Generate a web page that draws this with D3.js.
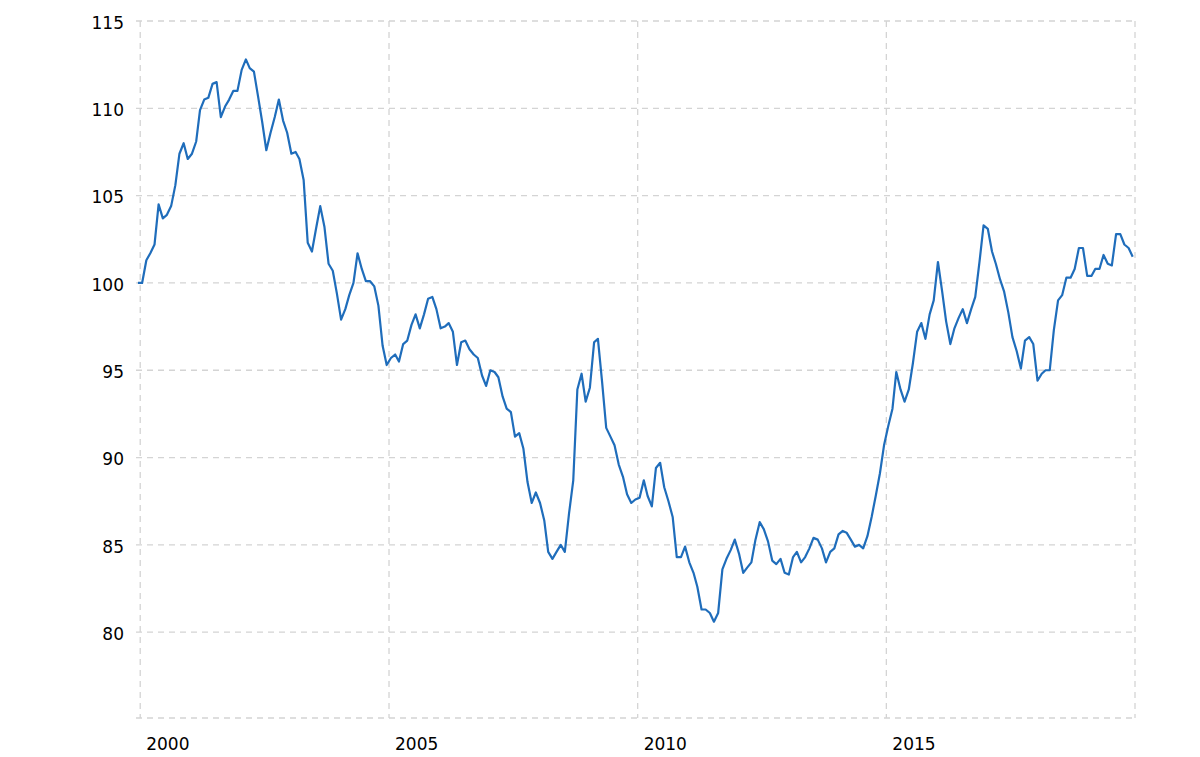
<!DOCTYPE html>
<html>
<head>
<meta charset="utf-8">
<script src="https://cdn.jsdelivr.net/npm/d3@7"></script>
<style>
  html, body { margin: 0; padding: 0; background: #ffffff; }
  svg { display: block; }
  .tick-label { font-family: "DejaVu Sans", Verdana, sans-serif; font-size: 17px; fill: #000; }
</style>
</head>
<body>
<svg id="chart" width="1200" height="757"></svg>
<script>
// ---- data (monthly, Dec 1999 .. Dec 2019) ----
const startMonth = "1999-12";
const values = [
  100.0, 100.0, 101.3, 101.7, 102.2, 104.5, 103.7, 103.9, 104.4, 105.6,
  107.4, 108.0, 107.1, 107.4, 108.1, 109.9, 110.5, 110.6, 111.4, 111.5,
  109.5, 110.1, 110.5, 111.0, 111.0, 112.2, 112.8, 112.3, 112.1, 110.7,
  109.2, 107.6, 108.6, 109.5, 110.5, 109.3, 108.6, 107.4, 107.5, 107.1,
  105.9, 102.3, 101.8, 103.1, 104.4, 103.2, 101.1, 100.7, 99.4, 97.9,
  98.5, 99.3, 100.0, 101.7, 100.8, 100.1, 100.1, 99.8, 98.7, 96.4,
  95.3, 95.7, 95.9, 95.5, 96.5, 96.7, 97.6, 98.2, 97.4, 98.2,
  99.1, 99.2, 98.5, 97.4, 97.5, 97.7, 97.2, 95.3, 96.6, 96.7,
  96.2, 95.9, 95.7, 94.7, 94.1, 95.0, 94.9, 94.6, 93.5, 92.8,
  92.6, 91.2, 91.4, 90.5, 88.6, 87.4, 88.0, 87.4, 86.4, 84.6,
  84.2, 84.6, 85.0, 84.6, 86.8, 88.7, 93.9, 94.8, 93.2, 94.0,
  96.6, 96.8, 94.3, 91.7, 91.2, 90.7, 89.6, 88.9, 87.9, 87.4,
  87.6, 87.7, 88.7, 87.8, 87.2, 89.4, 89.7, 88.3, 87.5, 86.6,
  84.3, 84.3, 84.9, 84.0, 83.4, 82.6, 81.3, 81.3, 81.1, 80.6,
  81.1, 83.6, 84.2, 84.7, 85.3, 84.5, 83.4, 83.7, 84.0, 85.3,
  86.3, 85.9, 85.2, 84.1, 83.9, 84.2, 83.4, 83.3, 84.3, 84.6,
  84.0, 84.3, 84.8, 85.4, 85.3, 84.8, 84.0, 84.6, 84.8, 85.6,
  85.8, 85.7, 85.3, 84.9, 85.0, 84.8, 85.5, 86.6, 87.8, 89.1,
  90.7, 91.8, 92.8, 94.9, 93.9, 93.2, 93.9, 95.4, 97.2, 97.7,
  96.8, 98.2, 99.0, 101.2, 99.5, 97.8, 96.5, 97.4, 98.0, 98.5,
  97.7, 98.5, 99.2, 101.2, 103.3, 103.1, 101.8, 101.1, 100.2, 99.5,
  98.3, 96.9, 96.1, 95.1, 96.7, 96.9, 96.5, 94.4, 94.8, 95.0,
  95.0, 97.3, 99.0, 99.3, 100.3, 100.3, 100.8, 102.0, 102.0, 100.4,
  100.4, 100.8, 100.8, 101.6, 101.1, 101.0, 102.8, 102.8, 102.2, 102.0,
  101.5
];
const yTicks = [80, 85, 90, 95, 100, 105, 110, 115];
const xTickYears = [2000, 2005, 2010, 2015, 2020];
const xTickLabels = ["2000", "2005", "2010", "2015", ""];

(function draw() {
  const parseMonth = d3.timeParse("%Y-%m");
  const start = parseMonth(startMonth);
  const data = values.map((v, i) => ({
    date: d3.timeDay.offset(d3.timeMonth.offset(start, i), 14),
    value: v
  }));

  const pL = 136, pR = 1135, pT = 21, pB = 718;

  const x = d3.scaleTime()
    .domain([start, new Date(2020, 0, 1)])
    .range([pL, pR]);
  const y = d3.scaleLinear()
    .domain([75, 115])
    .range([719.5, pT]);

  const svg = d3.select("#chart");
  const gridColor = "#d4d4d4";

  // horizontal grid + y labels
  yTicks.forEach(t => {
    svg.append("line")
      .attr("x1", pL).attr("x2", pR)
      .attr("y1", y(t)).attr("y2", y(t))
      .attr("stroke", gridColor).attr("stroke-width", 1.3)
      .attr("stroke-dasharray", "6,5");
    svg.append("text")
      .attr("class", "tick-label")
      .attr("x", pL - 12).attr("y", y(t))
      .attr("dy", "0.45em")
      .attr("text-anchor", "end")
      .text(t);
  });
  // bottom edge
  svg.append("line")
    .attr("x1", pL).attr("x2", pR)
    .attr("y1", pB).attr("y2", pB)
    .attr("stroke", gridColor).attr("stroke-width", 1.3)
    .attr("stroke-dasharray", "6,5");

  // vertical grid + x labels
  xTickYears.forEach((yr, i) => {
    const xx = x(new Date(yr, 0, 1));
    svg.append("line")
      .attr("x1", xx).attr("x2", xx)
      .attr("y1", pT).attr("y2", pB)
      .attr("stroke", gridColor).attr("stroke-width", 1.3)
      .attr("stroke-dasharray", "6,5");
    if (xTickLabels[i]) {
      svg.append("text")
        .attr("class", "tick-label")
        .attr("x", xx + 6).attr("y", 749.5)
        .attr("text-anchor", "start")
        .text(xTickLabels[i]);
    }
  });

  svg.append("defs").append("clipPath").attr("id", "plotclip")
    .append("rect").attr("x", pL).attr("y", 0).attr("width", pR - pL).attr("height", 757);

  const line = d3.line()
    .x(d => x(d.date))
    .y(d => y(d.value));

  svg.append("path")
    .datum(data)
    .attr("clip-path", "url(#plotclip)")
    .attr("fill", "none")
    .attr("stroke", "#1f6dbb")
    .attr("stroke-width", 2.2)
    .attr("stroke-linejoin", "round")
    .attr("d", line);
})();
</script>
</body>
</html>
